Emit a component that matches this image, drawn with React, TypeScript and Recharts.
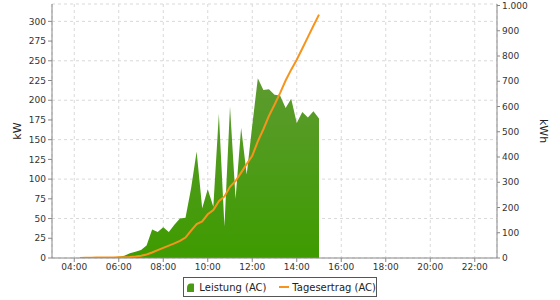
import { ComposedChart, Area, Line, XAxis, YAxis, CartesianGrid } from "recharts";

const times = [
  "04:15", "04:30", "04:45", "05:00", "05:15", "05:30", "05:45", "06:00",
  "06:15", "06:30", "06:45", "07:00", "07:15", "07:30", "07:45", "08:00",
  "08:15", "08:30", "08:45", "09:00", "09:15", "09:30", "09:45", "10:00",
  "10:15", "10:30", "10:45", "11:00", "11:15", "11:30", "11:45", "12:00",
  "12:15", "12:30", "12:45", "13:00", "13:15", "13:30", "13:45", "14:00",
  "14:15", "14:30", "14:45", "15:00",
];

// Leistung (AC) in kW
const leistung = [
  0, 0.5, 1, 1, 1, 1, 1, 1.5,
  3, 6, 8, 10, 16, 36, 33, 39,
  33, 42, 50, 51, 88, 135, 63, 87,
  65, 183, 40, 192, 75, 165, 106, 168,
  228, 213, 214, 207, 206, 190, 202, 171,
  185, 178, 186, 177,
];

// Tagesertrag (AC) in kWh
const tagesertrag = [
  0, 0.5, 1, 1.5, 2, 2, 2, 2.5,
  3, 4, 6, 9, 14, 22, 31, 40,
  49, 58, 68, 81, 108, 134, 145, 173,
  190, 225, 244, 282, 305, 338, 372, 405,
  462, 510, 563, 607, 653, 703, 746, 785,
  830, 875, 920, 964,
];

const hourTicks = [4, 6, 8, 10, 12, 14, 16, 18, 20, 22];
const kwTicks = [0, 25, 50, 75, 100, 125, 150, 175, 200, 225, 250, 275, 300];
const kwhTicks = [0, 100, 200, 300, 400, 500, 600, 700, 800, 900, 1000];

const toHours = (s: string) => {
  const [h, m] = s.split(":").map(Number);
  return h + m / 60;
};

const data = times.map((t, i) => ({
  t: toHours(t),
  kw: leistung[i],
  kwh: tagesertrag[i],
}));

const fmtHour = (h: number) => `${String(h).padStart(2, "0")}:00`;
const fmtKwh = (v: number) => (v >= 1000 ? `${Math.floor(v / 1000)}.${String(v % 1000).padStart(3, "0")}` : String(v));

const font = "'DejaVu Sans', sans-serif";
const tickStyle = { fontSize: 9, fill: "#333", fontFamily: font };
const axisColor = "#888";

export default function App() {
  return (
    <div style={{ position: "absolute", left: 0, top: 0, width: 560, height: 300, background: "#fff", fontFamily: font }}>
      <ComposedChart width={560} height={300} data={data} margin={{ top: 4, right: 0, bottom: 22, left: 0 }}>
        <defs>
          <linearGradient id="leistungFill" x1="0" y1="0" x2="0" y2="1">
            <stop offset="0%" stopColor="#5d9b30" />
            <stop offset="100%" stopColor="#3e9b00" />
          </linearGradient>
        </defs>
        <CartesianGrid yAxisId="kw" stroke="#d9d9d9" strokeDasharray="3 3" />
        <XAxis
          dataKey="t"
          type="number"
          domain={[3, 23]}
          ticks={hourTicks}
          tickFormatter={fmtHour}
          height={20}
          tickSize={4}
          tickMargin={2}
          tick={tickStyle}
          stroke={axisColor}
          allowDataOverflow
        />
        <XAxis
          xAxisId="top"
          orientation="top"
          type="number"
          domain={[3, 23]}
          height={0}
          tick={false}
          tickLine={false}
          axisLine={{ stroke: "#aaa" }}
        />
        <YAxis
          yAxisId="kw"
          domain={[0, 322]}
          ticks={kwTicks}
          width={52}
          tickSize={4}
          tickMargin={2}
          tick={tickStyle}
          stroke={axisColor}
          allowDataOverflow
        />
        <YAxis
          yAxisId="kwh"
          orientation="right"
          domain={[0, 1006]}
          ticks={kwhTicks}
          tickFormatter={fmtKwh}
          width={63}
          tickSize={3}
          tickMargin={2}
          tick={tickStyle}
          stroke={axisColor}
          allowDataOverflow
        />
        <Area
          yAxisId="kw"
          type="linear"
          dataKey="kw"
          stroke="none"
          fill="url(#leistungFill)"
          fillOpacity={1}
          isAnimationActive={false}
        />
        <Line
          yAxisId="kwh"
          type="linear"
          dataKey="kwh"
          stroke="#f7941d"
          strokeWidth={2}
          dot={false}
          isAnimationActive={false}
        />
      </ComposedChart>

      <div style={{ position: "absolute", left: 17, top: 131, transform: "translate(-50%, -50%) rotate(-90deg)", fontSize: 11, color: "#222", whiteSpace: "nowrap" }}>
        kW
      </div>
      <div style={{ position: "absolute", left: 543, top: 131, transform: "translate(-50%, -50%) rotate(90deg)", fontSize: 11, color: "#222", whiteSpace: "nowrap" }}>
        kWh
      </div>

      <div
        style={{
          position: "absolute",
          left: 183,
          top: 277,
          width: 192,
          height: 18,
          border: "1px solid #555",
          display: "flex",
          alignItems: "center",
          fontSize: 10,
          color: "#222",
          whiteSpace: "nowrap",
        }}
      >
        <svg width={9} height={9} style={{ marginLeft: 3, marginRight: 5 }}>
          <path d="M0,9 L0,5 Q0,1 3,0.5 L6,0.5 Q9,1 9,5 L9,9 Z" fill="#4c9a14" />
        </svg>
        <span>Leistung (AC)</span>
        <svg width={12} height={4} style={{ marginLeft: 13, marginRight: 3 }}>
          <line x1={0} y1={2} x2={12} y2={2} stroke="#f7941d" strokeWidth={2} />
        </svg>
        <span>Tagesertrag (AC)</span>
      </div>
    </div>
  );
}
